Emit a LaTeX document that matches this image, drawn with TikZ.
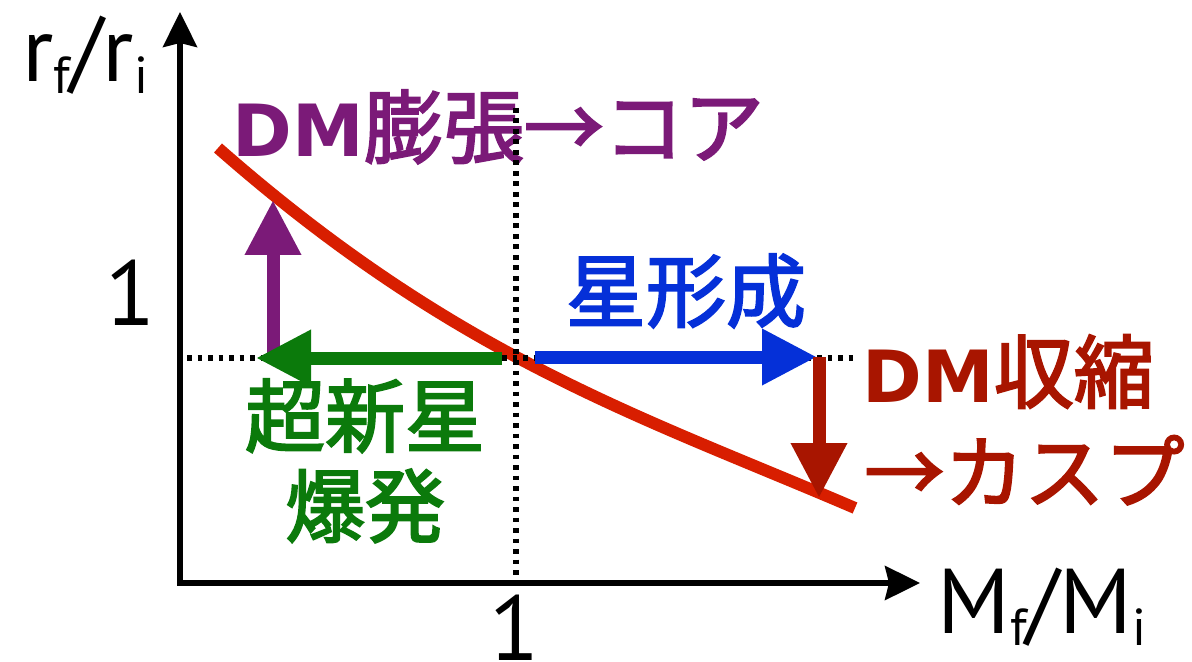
\documentclass[tikz,border=0pt]{standalone}
\usepackage{fontspec}
\usetikzlibrary{arrows.meta}
\setmainfont{PT Sans}
\newfontfamily\jp{Noto Sans CJK JP}[FakeBold=2.5]
\newfontfamily\dv{DejaVu Sans}
\definecolor{cpurple}{HTML}{7B1A78}
\definecolor{cblue}{HTML}{0530D8}
\definecolor{cdred}{HTML}{A81500}
\definecolor{cred}{HTML}{D81E00}
\definecolor{cgreen}{HTML}{0B7A0B}
\newcommand\lowsub[1]{\raisebox{-6pt}{\fontsize{26}{26}\selectfont #1}}
\newcommand\dmtext{{\dv\bfseries\fontsize{36}{40}\selectfont DM}}
\tikzset{
  axis/.style={line width=2.6pt, line join=miter},
  dotline/.style={line width=2.7pt, dash pattern=on 2.3pt off 2.95pt},
  curve/.style={cred, line width=6pt},
  bigarrow/.style={line width=6.5pt, -{Triangle[length=27.5pt,width=26.5pt]}},
  lab/.style={inner sep=0pt, font=\fontsize{46}{50}\selectfont},
  jptext/.style={inner sep=0pt, font=\jp\fontsize{40}{48}\selectfont},
}
\begin{document}
\begin{tikzpicture}[x=0.5pt,y=-0.5pt]
\useasboundingbox (0,0) rectangle (1192,662);
% axes
\coordinate (O) at (180,583);
\coordinate (Ytip) at (180,12);
\coordinate (Xtip) at (920,583);
\draw[axis, {Stealth[length=17.5pt,width=17pt,inset=2pt]}-{Stealth[length=17.5pt,width=17pt,inset=2pt]}] (Ytip) -- (O) -- (Xtip);
% curve
\coordinate (C0) at (218,148);
\coordinate (C1) at (855,508);
\draw[curve] (C0) .. controls (458,359) and (643,417) .. (C1);
% texts
\node[jptext, anchor=base west, text=cpurple] (tcore) at (232,157) {\dmtext 膨張→コア};
\node[jptext, anchor=base, text=cblue] (tsf) at (686,321) {星形成};
\node[jptext, anchor=base west, text=cdred] (tcusp1) at (862,402) {\dmtext 収縮};
\node[jptext, anchor=base west, text=cdred] (tcusp2) at (864,502) {→カスプ};
\node[jptext, anchor=base, text=cgreen] (tsn1) at (365,446) {超新星};
\node[jptext, anchor=base, text=cgreen] (tsn2) at (365,536) {爆発};
% axis labels
\node[lab, anchor=base west] (ylab) at (22,82) {r\lowsub{f}/r\lowsub{i}};
\node[lab, anchor=base west] (xlab) at (937,633) {M\lowsub{f}/M\lowsub{i}};
\node[lab, anchor=base] (yone) at (131,325) {1};
\node[lab, anchor=base] (xone) at (515,660) {1};
% dotted guides
\coordinate (Vtop) at (516,108);
\coordinate (Vbot) at (516,590);
\coordinate (Hl) at (187,358);
\coordinate (Hr) at (855,358);
\draw[dotline] (Vtop) -- (Vbot);
\draw[dotline] (Hl) -- (Hr);
% arrows
\coordinate (P0) at (273,358);
\coordinate (Ptip) at (273,200);
\coordinate (G0) at (502,358);
\coordinate (Gtip) at (256,358);
\coordinate (B0) at (535,357);
\coordinate (Btip) at (817,357);
\coordinate (R0) at (819,357);
\coordinate (Rtip) at (819,498);
\draw[bigarrow, cpurple] (P0) -- (Ptip);
\draw[bigarrow, cgreen] (G0) -- (Gtip);
\draw[bigarrow, cblue] (B0) -- (Btip);
\draw[bigarrow, cdred] (R0) -- (Rtip);
\end{tikzpicture}
\end{document}
